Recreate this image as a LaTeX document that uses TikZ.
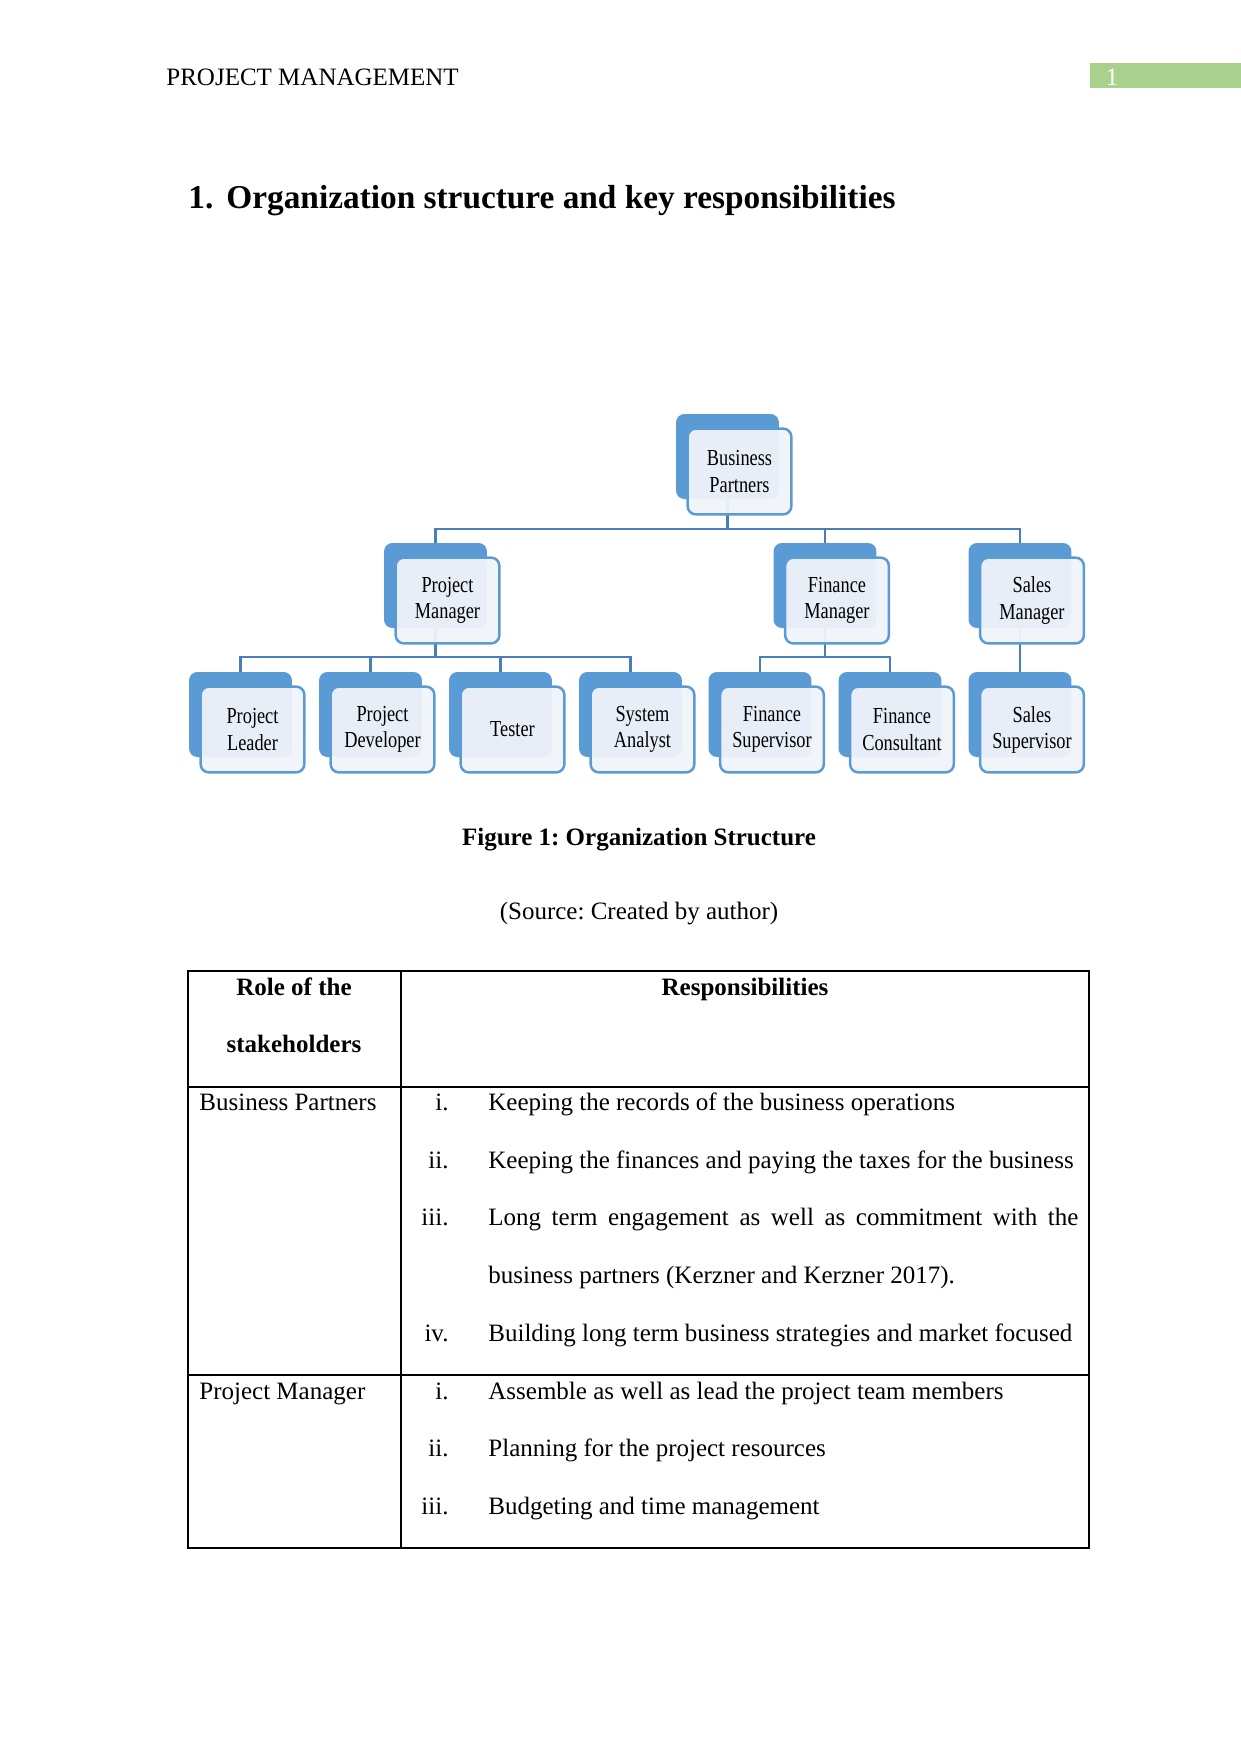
\documentclass[tikz,border=0pt]{standalone}
\usepackage{fontspec}
\setmainfont{Liberation Serif}
\newfontfamily\chartfont[FakeStretch=0.8]{Liberation Serif}
\usepackage{xcolor}
\usepackage{tikz}
\usetikzlibrary{positioning,calc}
\pgfdeclarelayer{background}
\pgfsetlayers{background,main}
\frenchspacing
\definecolor{orgblue}{HTML}{5B9BD5}
\definecolor{linkblue}{HTML}{4A7EBB}
\definecolor{cardfill}{HTML}{F0F4FA}
\definecolor{pagegreen}{HTML}{A9D18E}
\tikzset{
  backbox/.style={fill=orgblue, rounded corners=4pt, inner sep=0pt,
                  minimum width=49.4pt, minimum height=40.8pt},
  card/.style={draw=orgblue, line width=1.2pt, fill=cardfill, fill opacity=0.94,
               text opacity=1, rounded corners=4pt, inner sep=0pt,
               minimum width=49.8pt, minimum height=41.2pt, align=center,
               font=\chartfont\fontsize{11}{12.5}\selectfont},
  link/.style={draw=linkblue, line width=1.2pt},
  txt/.style={font=\fontsize{12}{14}\selectfont, inner sep=0pt, anchor=mid west,
              yshift=-1.9pt},
  bold/.style={txt, font=\fontsize{12}{14}\selectfont\bfseries, anchor=mid},
  num/.style={txt, anchor=mid east},
  rule/.style={line width=0.6pt},
}

\begin{document}
\begin{tikzpicture}[x=0.48pt, y=-0.48pt]
  \useasboundingbox (0,0) rectangle (1241,1754);
  % page header
  \node[txt] (head) at (166,77) {PROJECT MANAGEMENT};
  \fill[pagegreen] (1090,63) rectangle (1241,88);
  \node[txt, anchor=mid, text=white] (pageno) at (1112,77) {1};
  \node[txt, font=\fontsize{16}{18}\selectfont\bfseries] (secno) at (188,200) {1.};
  \node[txt, font=\fontsize{16}{18}\selectfont\bfseries] (sec) at (226,200)
    {Organization structure and key responsibilities};

  % organisation chart
  \node[backbox] (bp) at (727.5,456.5) {};
  \node[backbox] (pm) at (435.5,585.5) {};
  \node[backbox] (fm) at (825,585.5) {};
  \node[backbox] (sm) at (1020,585.5) {};
  \node[backbox] (pl) at (240.5,714.5) {};
  \node[backbox] (pd) at (370.5,714.5) {};
  \node[backbox] (te) at (500.5,714.5) {};
  \node[backbox] (sa) at (630.5,714.5) {};
  \node[backbox] (fs) at (760,714.5) {};
  \node[backbox] (fc) at (890,714.5) {};
  \node[backbox] (ss) at (1020,714.5) {};
  \node[card] (bpf) at ($(bp)+(12,15)$) {Business\\Partners};
  \node[card] (pmf) at ($(pm)+(12,15)$) {Project\\Manager};
  \node[card] (fmf) at ($(fm)+(12,15)$) {Finance\\Manager};
  \node[card] (smf) at ($(sm)+(12,15)$) {Sales\\Manager};
  \node[card] (plf) at ($(pl)+(12,15)$) {Project\\Leader};
  \node[card] (pdf) at ($(pd)+(12,15)$) {Project\\Developer};
  \node[card] (tef) at ($(te)+(12,15)$) {Tester};
  \node[card] (saf) at ($(sa)+(12,15)$) {System\\Analyst};
  \node[card] (fsf) at ($(fs)+(12,15)$) {Finance\\Supervisor};
  \node[card] (fcf) at ($(fc)+(12,15)$) {Finance\\Consultant};
  \node[card] (ssf) at ($(ss)+(12,15)$) {Sales\\Supervisor};
  \coordinate (topbar) at (0,529);
  \coordinate (subbar) at (0,657);
  \begin{pgfonlayer}{background}
    \draw[link] (bp.south) -- (bp.south |- topbar);
    \draw[link] (pm.north) |- (sm.north |- topbar) -- (sm.north);
    \draw[link] (fm.north) -- (fm.north |- topbar);
    \draw[link] (pm.south) -- (pm.south |- subbar);
    \draw[link] (pl.north) |- (sa.north |- subbar) -- (sa.north);
    \draw[link] (pd.north) -- (pd.north |- subbar);
    \draw[link] (te.north) -- (te.north |- subbar);
    \draw[link] (fm.south) -- (fm.south |- subbar);
    \draw[link] (fs.north) |- (fc.north |- subbar) -- (fc.north);
    \draw[link] (sm.south) -- (ss.north);
  \end{pgfonlayer}

  \node[bold] (cap) at (639,837) {Figure 1: Organization Structure};
  \node[txt, anchor=mid] (src) at (639,911) {(Source: Created by author)};

  % table
  \draw[rule] (188,971) rectangle (1089,1548);
  \draw[rule] (401,971) -- (401,1548);
  \draw[line width=1.2pt] (188,1087) -- (1089,1087);
  \draw[rule] (188,1375) -- (1089,1375);
  \node[bold] (role1) at (294,987) {Role of the};
  \node[bold] (role2) at (294,1044) {stakeholders};
  \node[bold] (resp) at (745,987) {Responsibilities};
  \node[txt] (bpr) at (199,1102) {Business Partners};
  \node[num] (bp1n) at (449,1102) {i.};
  \node[txt] (bp1) at (488,1102) {Keeping the records of the business operations};
  \node[num] (bp2n) at (449,1160) {ii.};
  \node[txt] (bp2) at (488,1160) {Keeping the finances and paying the taxes for the business};
  \node[num] (bp3n) at (449,1217) {iii.};
  \node[txt] (bp3) at (488,1217)
    {\makebox[283.2pt][s]{Long term engagement as well as commitment with the}};
  \node[txt] (bp3b) at (488,1275) {business partners (Kerzner and Kerzner 2017).};
  \node[num] (bp4n) at (449,1333) {iv.};
  \node[txt] (bp4) at (488,1333) {Building long term business strategies and market focused};
  \node[txt] (pmr) at (199,1391) {Project Manager};
  \node[num] (pm1n) at (449,1391) {i.};
  \node[txt] (pm1) at (488,1391) {Assemble as well as lead the project team members};
  \node[num] (pm2n) at (449,1448) {ii.};
  \node[txt] (pm2) at (488,1448) {Planning for the project resources};
  \node[num] (pm3n) at (449,1506) {iii.};
  \node[txt] (pm3) at (488,1506) {Budgeting and time management};
\end{tikzpicture}
\end{document}
